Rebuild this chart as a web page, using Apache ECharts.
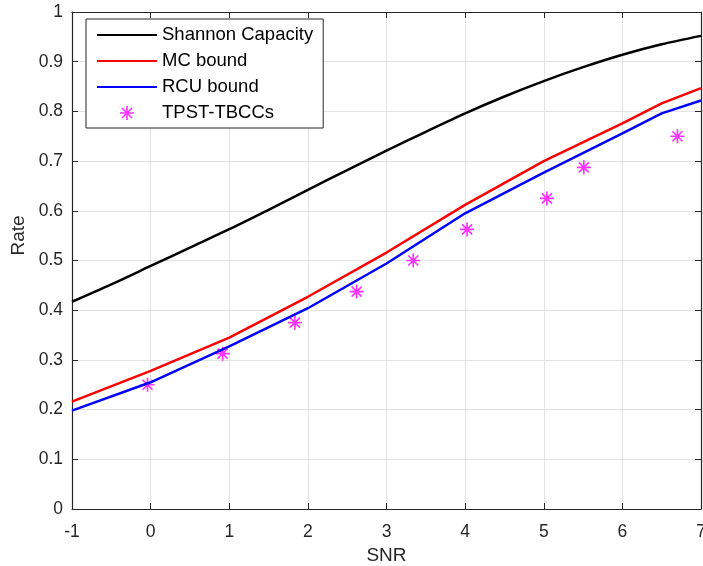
<!DOCTYPE html>
<html>
<head>
<meta charset="utf-8">
<script src="https://cdn.jsdelivr.net/npm/echarts@6/dist/echarts.min.js"></script>
<style>
html,body{margin:0;padding:0;background:#fff;}
#main{width:703px;height:566px;}
</style>
</head>
<body>
<div id="main"></div>
<script>
// values
var snrShannon = [-1, -0.5, 0, 0.5, 1, 1.5, 2, 2.5, 3, 3.5, 4, 4.5, 5, 5.5, 6, 6.5, 7];
var rateShannon = [0.417, 0.452, 0.489, 0.526, 0.563, 0.602, 0.642, 0.682, 0.721, 0.759, 0.796, 0.830, 0.861, 0.889, 0.914, 0.935, 0.952];
var snrBound = [-1, 0, 1, 2, 3, 4, 5, 6, 6.5, 7];
var rateMC = [0.216, 0.278, 0.345, 0.427, 0.516, 0.612, 0.700, 0.776, 0.816, 0.847];
var rateRCU = [0.198, 0.255, 0.327, 0.404, 0.494, 0.595, 0.677, 0.756, 0.796, 0.822];
var snrTPST = [-0.04, 0.915, 1.835, 2.62, 3.34, 4.025, 5.04, 5.51, 6.70];
var rateTPST = [0.25, 0.3125, 0.375, 0.4375, 0.5, 0.5625, 0.625, 0.6875, 0.75];

function pairs(xs, ys){
	var out = [];
	for(var i = 0; i < xs.length; i++){
		out.push([xs[i], ys[i]]);
	}
	return out;
}

// matlab style asterisk, 4 bars in a 20x20 box
var starPath = 'path://M8.8 0H11.2V20H8.8Z M0 8.8H20V11.2H0Z M3.7 2.0L18.0 16.3L16.3 18.0L2.0 3.7Z M18.0 3.7L3.7 18.0L2.0 16.3L16.3 2.0Z';

var font = "'Liberation Sans', Arial, sans-serif";
var axisCol = '#262626';
var gridCol = '#e3e3e3';

var chart = echarts.init(document.getElementById('main'));
var option = {
	animation: false,
	backgroundColor: '#fff',
	textStyle: {fontFamily: font},
	grid: {left: 72, right: 2, top: 12, bottom: 57, containLabel: false, outerBoundsMode: 'none'},
	legend: {
		orient: 'vertical',
		left: 86,
		top: 19,
		padding: [6.5, 10, 5.5, 10],
		itemWidth: 60,
		itemHeight: 14,
		itemGap: 7,
		borderColor: axisCol,
		borderWidth: 1,
		backgroundColor: '#fff',
		textStyle: {fontFamily: font, fontSize: 18.5, color: '#000'},
		// hide the dot that line series put in the legend
		data: [
			{name: 'Shannon Capacity', itemStyle: {opacity: 0}},
			{name: 'MC bound', itemStyle: {opacity: 0}},
			{name: 'RCU bound', itemStyle: {opacity: 0}},
			{name: 'TPST-TBCCs'}
		]
	},
	xAxis: [
		{
			type: 'value',
			min: -1,
			max: 7,
			interval: 1,
			name: 'SNR',
			nameLocation: 'middle',
			nameGap: 28,
			nameTextStyle: {fontFamily: font, fontSize: 19, color: '#262626'},
			axisLine: {show: true, onZero: false, lineStyle: {color: axisCol, width: 1.2}},
			axisTick: {show: true, inside: true, length: 6, lineStyle: {color: axisCol}},
			axisLabel: {fontFamily: font, fontSize: 17.5, color: '#262626', margin: 14},
			splitLine: {show: true, lineStyle: {color: gridCol, width: 1}}
		},
		{
			type: 'value',
			position: 'top',
			min: -1,
			max: 7,
			interval: 1,
			axisLine: {show: true, onZero: false, lineStyle: {color: axisCol, width: 1.2}},
			axisTick: {show: true, inside: true, length: 6, lineStyle: {color: axisCol}},
			axisLabel: {show: false},
			splitLine: {show: false}
		}
	],
	yAxis: [
		{
			type: 'value',
			min: 0,
			max: 1,
			interval: 0.1,
			name: 'Rate',
			nameLocation: 'middle',
			nameGap: 43,
			nameTextStyle: {fontFamily: font, fontSize: 19, color: '#262626', padding: [0, 0, 0, 50]},
			axisLine: {show: true, onZero: false, lineStyle: {color: axisCol, width: 1.2}},
			axisTick: {show: true, inside: true, length: 6, lineStyle: {color: axisCol}},
			axisLabel: {
				fontFamily: font, fontSize: 17.5, color: '#262626', margin: 9,
				formatter: function(v){ return String(+v.toFixed(1)); }
			},
			splitLine: {show: true, lineStyle: {color: gridCol, width: 1}}
		},
		{
			type: 'value',
			position: 'right',
			min: 0,
			max: 1,
			interval: 0.1,
			axisLine: {show: true, onZero: false, lineStyle: {color: axisCol, width: 1.2}},
			axisTick: {show: true, inside: true, length: 6, lineStyle: {color: axisCol}},
			axisLabel: {show: false},
			splitLine: {show: false}
		}
	],
	series: [
		{
			name: 'Shannon Capacity',
			type: 'line',
			symbol: 'none',
			smooth: 0.3,
			color: '#000000',
			lineStyle: {color: '#000000', width: 2.5},
			data: pairs(snrShannon, rateShannon)
		},
		{
			name: 'MC bound',
			type: 'line',
			symbol: 'none',
			color: '#ff0000',
			lineStyle: {color: '#ff0000', width: 2.5},
			data: pairs(snrBound, rateMC)
		},
		{
			name: 'RCU bound',
			type: 'line',
			symbol: 'none',
			color: '#0000ff',
			lineStyle: {color: '#0000ff', width: 2.5},
			data: pairs(snrBound, rateRCU)
		},
		{
			name: 'TPST-TBCCs',
			type: 'scatter',
			symbol: starPath,
			symbolSize: 14,
			color: '#ff00ff',
			itemStyle: {color: '#ff00ff'},
			data: pairs(snrTPST, rateTPST)
		}
	]
};
chart.setOption(option);
</script>
</body>
</html>
